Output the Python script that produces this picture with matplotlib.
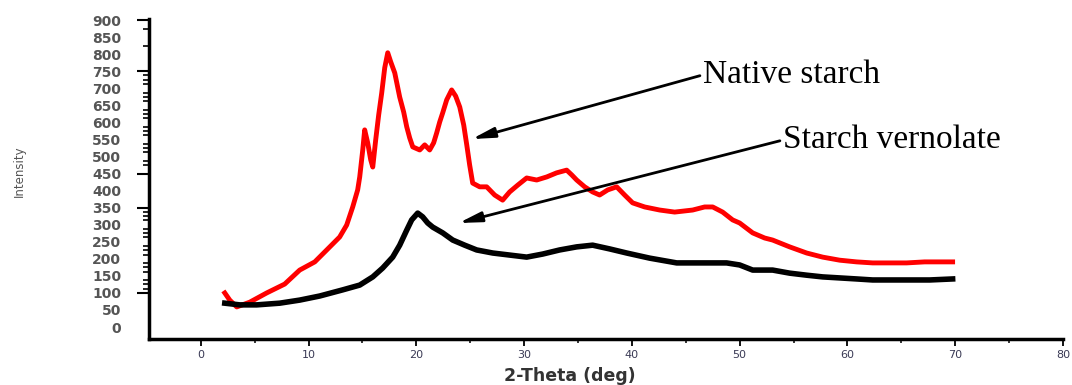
import numpy as np
import matplotlib
matplotlib.use("Agg")
import matplotlib.pyplot as plt
from matplotlib.ticker import FixedLocator, NullFormatter

# ---- data ----
native_x = [2.23, 2.69, 3.34, 4.55, 6.12, 7.79, 9.18, 10.58, 11.69, 12.89, 13.54, 14.1, 14.56,
            14.75, 15.03, 15.21, 15.49, 15.77, 15.96, 16.23, 16.51, 16.79, 17.07, 17.35, 17.63,
            18.0, 18.46, 18.83, 19.11, 19.39, 19.67, 20.32, 20.78, 21.24, 21.61, 21.89, 22.17,
            22.45, 22.82, 23.28, 23.65, 24.03, 24.4, 24.68, 24.95, 25.23, 25.88, 26.53, 27.27,
            28.01, 28.66, 29.41, 30.24, 31.17, 32.1, 33.02, 33.95, 34.42, 34.88, 35.62, 36.36,
            37.01, 37.76, 38.59, 39.33, 40.07, 41.19, 42.58, 43.97, 45.64, 46.75, 47.5, 48.42,
            49.35, 50.0, 51.21, 52.32, 53.06, 54.64, 56.22, 57.7, 59.28, 60.85, 62.34, 63.91,
            65.49, 67.16, 68.55, 69.76]
native_y = [100, 79, 59, 73, 100, 126, 167, 191, 226, 264, 299, 352, 402,
            440, 519, 578, 540, 490, 469, 548, 622, 686, 760, 804, 777,
            745, 674, 630, 587, 554, 528, 519, 534, 519, 540, 569, 601,
            628, 666, 695, 677, 645, 592, 534, 475, 422, 411, 411, 387,
            372, 396, 416, 437, 431, 440, 452, 460, 446, 431, 411, 396,
            387, 402, 411, 387, 364, 352, 343, 337, 343, 352, 352, 337,
            314, 305, 276, 261, 255, 235, 217, 205, 196, 191, 188, 188,
            188, 191, 191, 191]

vern_x = [2.23, 3.62, 5.19, 7.33, 9.18, 11.04, 13.17, 14.75, 15.96, 16.88, 17.81, 18.46, 19.11,
          19.57, 20.13, 20.59, 21.06, 21.52, 22.45, 23.38, 24.49, 25.6, 27.09, 28.66, 30.24,
          31.73, 33.3, 34.88, 36.36, 37.94, 39.52, 41.65, 44.16, 46.29, 48.79, 50.0, 51.21,
          53.06, 54.64, 56.22, 57.7, 59.28, 60.85, 62.34, 63.91, 65.49, 67.63, 69.76]
vern_y = [70, 65, 65, 70, 79, 91, 109, 123, 147, 173, 205, 240, 284,
          314, 334, 323, 305, 293, 276, 255, 240, 226, 217, 211, 205,
          214, 226, 235, 240, 229, 217, 202, 188, 188, 188, 182, 167,
          167, 158, 152, 147, 144, 141, 138, 138, 138, 138, 141]

x_ticks = [0, 10, 20, 30, 40, 50, 60, 70, 80]
y_ticks = list(range(0, 901, 50))
labels = ["Native starch", "Starch vernolate"]

# ---- figure ----
fig = plt.figure(figsize=(10.72, 3.85), dpi=100)
ax = fig.add_axes([0.139, 0.1195, 0.8526, 0.8312])

ax.plot(native_x, native_y, color="#ff0000", lw=3.5, solid_joinstyle="round")
ax.plot(vern_x, vern_y, color="black", lw=4.0, solid_joinstyle="round")

ax.set_xlim(-4.8, 80)
ax.set_ylim(-35, 903)

for s in ["top", "right"]:
    ax.spines[s].set_visible(False)
for s in ["left", "bottom"]:
    ax.spines[s].set_linewidth(2.5)

# x axis
ax.set_xticks(x_ticks)
ax.set_xticklabels([str(v) for v in x_ticks], fontsize=8, color="#3a3a55")
ax.xaxis.set_minor_locator(FixedLocator(np.arange(5, 80, 10)))
ax.tick_params(axis="x", which="major", direction="out", length=5, width=1.3, pad=3)
ax.tick_params(axis="x", which="minor", direction="out", length=3, width=1.1)

# y axis
ax.set_yticks(y_ticks)
ax.set_yticklabels([str(v) for v in y_ticks], fontsize=10, fontweight="bold", color="#555555")
ax.tick_params(axis="y", which="major", length=0, pad=20)
short = list(np.arange(825, 880, 25)) + list(np.arange(475, 740, 12.5)) + list(np.arange(112.5, 340, 12.5))
ax.yaxis.set_minor_locator(FixedLocator(short))
ax.yaxis.set_minor_formatter(NullFormatter())
ax.tick_params(axis="y", which="minor", direction="out", length=4.5, width=1.2)

sec = ax.secondary_yaxis("left")
sec.set_yticks([100, 350, 450, 750, 900])
sec.set_yticklabels([])
sec.tick_params(axis="y", direction="out", length=9, width=1.5)
sec.spines["left"].set_visible(False)

fig.text(0.532, 0.024, "2-Theta (deg)", fontsize=12.5, fontweight="bold", color="#333333",
         ha="center", va="center")
fig.text(0.018, 0.556, "Intensity", fontsize=8.5, color="#555555", rotation=90,
         ha="center", va="center")

# annotations
arrow = dict(arrowstyle="-|>,head_length=1.35,head_width=0.3", color="black", lw=2,
             shrinkA=0, shrinkB=0, relpos=(0, 0.5), mutation_scale=10)
ax.annotate(labels[0], xy=(25.14, 551), xytext=(46.57, 739),
            fontsize=24, family="Liberation Serif", ha="left", va="center",
            arrowprops=arrow)
ax.annotate(labels[1], xy=(23.93, 305), xytext=(53.99, 548),
            fontsize=24, family="Liberation Serif", ha="left", va="center",
            arrowprops=arrow)

fig.savefig("out.png", dpi=100)
